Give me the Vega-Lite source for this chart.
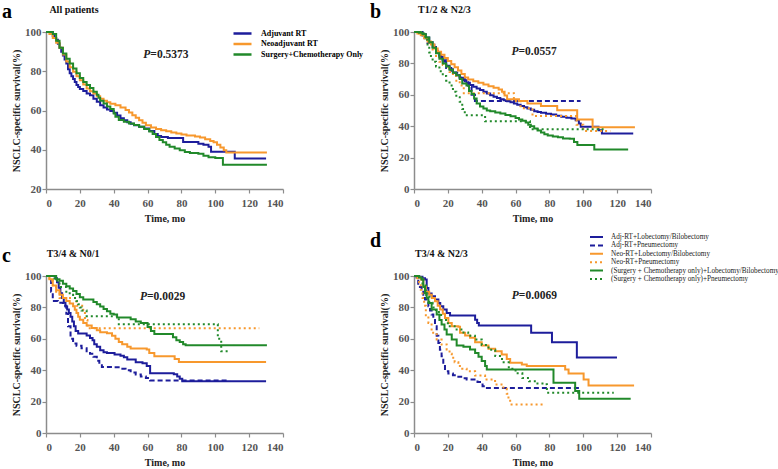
{
"$schema": "https://vega.github.io/schema/vega-lite/v6.json",
"autosize": {"type": "none"},
"padding": {"left": 46, "top": 32, "right": 732, "bottom": 437},
"background": "white",
"config": {
  "view": {"stroke": null},
  "font": "Liberation Serif",
  "axis": {"labelFont": "Liberation Serif", "labelFontWeight": "bold", "labelFontSize": 11, "labelColor": "#555555", "titleFont": "Liberation Serif", "titleFontWeight": "bold", "titleFontSize": 10, "titleColor": "#222222", "domainColor": "#8c8c8c", "domainWidth": 1.5, "tickColor": "#8c8c8c", "tickWidth": 1.2, "tickSize": 4, "grid": false},
  "axisX": {"labelPadding": 4, "titlePadding": 5},
  "axisY": {"labelPadding": 1, "titlePadding": 3},
  "title": {"font": "Liberation Serif", "fontWeight": "bold", "fontSize": 20, "color": "#000000", "anchor": "start", "frame": "group", "dx": -44, "offset": -17}
},
"datasets": {
  "a": [
    {"g":"Adjuvant RT","t":0,"s":100},{"g":"Adjuvant RT","t":4,"s":98},{"g":"Adjuvant RT","t":5,"s":97},{"g":"Adjuvant RT","t":6,"s":96},{"g":"Adjuvant RT","t":7,"s":94},{"g":"Adjuvant RT","t":8,"s":92},{"g":"Adjuvant RT","t":9,"s":90},{"g":"Adjuvant RT","t":10,"s":88},{"g":"Adjuvant RT","t":11,"s":86},{"g":"Adjuvant RT","t":12,"s":84},{"g":"Adjuvant RT","t":13,"s":81},{"g":"Adjuvant RT","t":14,"s":79},{"g":"Adjuvant RT","t":15,"s":77.5},{"g":"Adjuvant RT","t":16,"s":76},{"g":"Adjuvant RT","t":17,"s":74.5},{"g":"Adjuvant RT","t":18,"s":73},{"g":"Adjuvant RT","t":19,"s":72},{"g":"Adjuvant RT","t":20,"s":71},{"g":"Adjuvant RT","t":22,"s":70},{"g":"Adjuvant RT","t":24,"s":68.6},{"g":"Adjuvant RT","t":26,"s":67.8},{"g":"Adjuvant RT","t":28,"s":66},{"g":"Adjuvant RT","t":30,"s":64.5},{"g":"Adjuvant RT","t":32,"s":62.7},{"g":"Adjuvant RT","t":34,"s":61.5},{"g":"Adjuvant RT","t":36,"s":60.5},{"g":"Adjuvant RT","t":38,"s":59.8},{"g":"Adjuvant RT","t":40,"s":58.8},{"g":"Adjuvant RT","t":42,"s":57.5},{"g":"Adjuvant RT","t":44,"s":56},{"g":"Adjuvant RT","t":46,"s":55},{"g":"Adjuvant RT","t":48,"s":54},{"g":"Adjuvant RT","t":50,"s":53.2},{"g":"Adjuvant RT","t":52,"s":52.5},{"g":"Adjuvant RT","t":55,"s":51.7},{"g":"Adjuvant RT","t":58,"s":50.8},{"g":"Adjuvant RT","t":61,"s":49.5},{"g":"Adjuvant RT","t":64,"s":48},{"g":"Adjuvant RT","t":66,"s":47},{"g":"Adjuvant RT","t":68,"s":46.5},{"g":"Adjuvant RT","t":72,"s":46},{"g":"Adjuvant RT","t":81,"s":44},{"g":"Adjuvant RT","t":90,"s":43},{"g":"Adjuvant RT","t":93,"s":42.5},{"g":"Adjuvant RT","t":96,"s":41.5},{"g":"Adjuvant RT","t":97.5,"s":39},{"g":"Adjuvant RT","t":111.5,"s":35.6},{"g":"Adjuvant RT","t":130,"s":35.6},
    {"g":"Neoadjuvant RT","t":0,"s":100},{"g":"Neoadjuvant RT","t":2,"s":99},{"g":"Neoadjuvant RT","t":4,"s":97},{"g":"Neoadjuvant RT","t":6,"s":94.5},{"g":"Neoadjuvant RT","t":8,"s":92},{"g":"Neoadjuvant RT","t":10,"s":88.5},{"g":"Neoadjuvant RT","t":12,"s":85},{"g":"Neoadjuvant RT","t":14,"s":82},{"g":"Neoadjuvant RT","t":16,"s":79.7},{"g":"Neoadjuvant RT","t":18,"s":77.5},{"g":"Neoadjuvant RT","t":20,"s":75.4},{"g":"Neoadjuvant RT","t":22,"s":73.3},{"g":"Neoadjuvant RT","t":24,"s":71.2},{"g":"Neoadjuvant RT","t":26,"s":69.8},{"g":"Neoadjuvant RT","t":28,"s":68.6},{"g":"Neoadjuvant RT","t":30,"s":67.2},{"g":"Neoadjuvant RT","t":32,"s":66},{"g":"Neoadjuvant RT","t":34,"s":65},{"g":"Neoadjuvant RT","t":36,"s":64.2},{"g":"Neoadjuvant RT","t":38,"s":63.5},{"g":"Neoadjuvant RT","t":41,"s":62.7},{"g":"Neoadjuvant RT","t":44,"s":61.5},{"g":"Neoadjuvant RT","t":47,"s":60.2},{"g":"Neoadjuvant RT","t":49,"s":59},{"g":"Neoadjuvant RT","t":51,"s":57.6},{"g":"Neoadjuvant RT","t":53,"s":56.3},{"g":"Neoadjuvant RT","t":55,"s":55},{"g":"Neoadjuvant RT","t":57,"s":53.8},{"g":"Neoadjuvant RT","t":59,"s":52.5},{"g":"Neoadjuvant RT","t":62,"s":51.3},{"g":"Neoadjuvant RT","t":65,"s":50.6},{"g":"Neoadjuvant RT","t":68,"s":50},{"g":"Neoadjuvant RT","t":71,"s":49.4},{"g":"Neoadjuvant RT","t":74,"s":48.8},{"g":"Neoadjuvant RT","t":77,"s":48.3},{"g":"Neoadjuvant RT","t":80,"s":47.8},{"g":"Neoadjuvant RT","t":83,"s":47.2},{"g":"Neoadjuvant RT","t":88,"s":46.8},{"g":"Neoadjuvant RT","t":91,"s":46.2},{"g":"Neoadjuvant RT","t":94,"s":45.4},{"g":"Neoadjuvant RT","t":97,"s":44.5},{"g":"Neoadjuvant RT","t":99,"s":43.8},{"g":"Neoadjuvant RT","t":101,"s":42.5},{"g":"Neoadjuvant RT","t":103,"s":41.2},{"g":"Neoadjuvant RT","t":105,"s":39.8},{"g":"Neoadjuvant RT","t":106.5,"s":38.6},{"g":"Neoadjuvant RT","t":130.5,"s":38.6},
    {"g":"Surgery+Chemotherapy Only","t":0,"s":100},{"g":"Surgery+Chemotherapy Only","t":3,"s":100},{"g":"Surgery+Chemotherapy Only","t":4,"s":99},{"g":"Surgery+Chemotherapy Only","t":6,"s":95.5},{"g":"Surgery+Chemotherapy Only","t":8,"s":92},{"g":"Surgery+Chemotherapy Only","t":10,"s":89},{"g":"Surgery+Chemotherapy Only","t":12,"s":86.4},{"g":"Surgery+Chemotherapy Only","t":14,"s":84},{"g":"Surgery+Chemotherapy Only","t":16,"s":81.4},{"g":"Surgery+Chemotherapy Only","t":18,"s":79},{"g":"Surgery+Chemotherapy Only","t":20,"s":76.5},{"g":"Surgery+Chemotherapy Only","t":22,"s":74.5},{"g":"Surgery+Chemotherapy Only","t":24,"s":73},{"g":"Surgery+Chemotherapy Only","t":26,"s":71.5},{"g":"Surgery+Chemotherapy Only","t":28,"s":69.5},{"g":"Surgery+Chemotherapy Only","t":30,"s":68},{"g":"Surgery+Chemotherapy Only","t":31,"s":66.5},{"g":"Surgery+Chemotherapy Only","t":32,"s":65},{"g":"Surgery+Chemotherapy Only","t":34,"s":63.6},{"g":"Surgery+Chemotherapy Only","t":36,"s":62},{"g":"Surgery+Chemotherapy Only","t":38,"s":60.8},{"g":"Surgery+Chemotherapy Only","t":40,"s":58.5},{"g":"Surgery+Chemotherapy Only","t":41,"s":56.8},{"g":"Surgery+Chemotherapy Only","t":43,"s":55.2},{"g":"Surgery+Chemotherapy Only","t":46,"s":54.3},{"g":"Surgery+Chemotherapy Only","t":49,"s":53.4},{"g":"Surgery+Chemotherapy Only","t":52,"s":52.6},{"g":"Surgery+Chemotherapy Only","t":55,"s":51.7},{"g":"Surgery+Chemotherapy Only","t":58,"s":50.6},{"g":"Surgery+Chemotherapy Only","t":61,"s":49.3},{"g":"Surgery+Chemotherapy Only","t":63,"s":48},{"g":"Surgery+Chemotherapy Only","t":65,"s":46.5},{"g":"Surgery+Chemotherapy Only","t":67,"s":45},{"g":"Surgery+Chemotherapy Only","t":69,"s":43.8},{"g":"Surgery+Chemotherapy Only","t":71,"s":42.5},{"g":"Surgery+Chemotherapy Only","t":73,"s":41.5},{"g":"Surgery+Chemotherapy Only","t":76,"s":40.6},{"g":"Surgery+Chemotherapy Only","t":79,"s":39.8},{"g":"Surgery+Chemotherapy Only","t":82,"s":38.8},{"g":"Surgery+Chemotherapy Only","t":85,"s":38.4},{"g":"Surgery+Chemotherapy Only","t":90,"s":38},{"g":"Surgery+Chemotherapy Only","t":93,"s":37},{"g":"Surgery+Chemotherapy Only","t":96,"s":36.2},{"g":"Surgery+Chemotherapy Only","t":100,"s":35.8},{"g":"Surgery+Chemotherapy Only","t":104.5,"s":32.3},{"g":"Surgery+Chemotherapy Only","t":130.5,"s":32.3}
  ],
  "b": [
    {"g":"Adj-RT+Lobectomy/Bilobectomy","t":0,"s":100},{"g":"Adj-RT+Lobectomy/Bilobectomy","t":3,"s":99.5},{"g":"Adj-RT+Lobectomy/Bilobectomy","t":5,"s":98.5},{"g":"Adj-RT+Lobectomy/Bilobectomy","t":7,"s":96.5},{"g":"Adj-RT+Lobectomy/Bilobectomy","t":9,"s":93.5},{"g":"Adj-RT+Lobectomy/Bilobectomy","t":11,"s":90.5},{"g":"Adj-RT+Lobectomy/Bilobectomy","t":13,"s":87},{"g":"Adj-RT+Lobectomy/Bilobectomy","t":15,"s":84},{"g":"Adj-RT+Lobectomy/Bilobectomy","t":17,"s":81},{"g":"Adj-RT+Lobectomy/Bilobectomy","t":19,"s":78.5},{"g":"Adj-RT+Lobectomy/Bilobectomy","t":21,"s":76.3},{"g":"Adj-RT+Lobectomy/Bilobectomy","t":23,"s":74.2},{"g":"Adj-RT+Lobectomy/Bilobectomy","t":25,"s":72.5},{"g":"Adj-RT+Lobectomy/Bilobectomy","t":27,"s":70.8},{"g":"Adj-RT+Lobectomy/Bilobectomy","t":29,"s":69.2},{"g":"Adj-RT+Lobectomy/Bilobectomy","t":31,"s":67.6},{"g":"Adj-RT+Lobectomy/Bilobectomy","t":33,"s":66.2},{"g":"Adj-RT+Lobectomy/Bilobectomy","t":35,"s":65.1},{"g":"Adj-RT+Lobectomy/Bilobectomy","t":37,"s":64},{"g":"Adj-RT+Lobectomy/Bilobectomy","t":39,"s":63},{"g":"Adj-RT+Lobectomy/Bilobectomy","t":41,"s":61.9},{"g":"Adj-RT+Lobectomy/Bilobectomy","t":43,"s":60.8},{"g":"Adj-RT+Lobectomy/Bilobectomy","t":45,"s":59.7},{"g":"Adj-RT+Lobectomy/Bilobectomy","t":47,"s":58.7},{"g":"Adj-RT+Lobectomy/Bilobectomy","t":49,"s":57.9},{"g":"Adj-RT+Lobectomy/Bilobectomy","t":51,"s":57.2},{"g":"Adj-RT+Lobectomy/Bilobectomy","t":53,"s":56.5},{"g":"Adj-RT+Lobectomy/Bilobectomy","t":55,"s":55.9},{"g":"Adj-RT+Lobectomy/Bilobectomy","t":57,"s":55.2},{"g":"Adj-RT+Lobectomy/Bilobectomy","t":59,"s":54.5},{"g":"Adj-RT+Lobectomy/Bilobectomy","t":61,"s":53.6},{"g":"Adj-RT+Lobectomy/Bilobectomy","t":63,"s":52.8},{"g":"Adj-RT+Lobectomy/Bilobectomy","t":65,"s":52},{"g":"Adj-RT+Lobectomy/Bilobectomy","t":67,"s":51.3},{"g":"Adj-RT+Lobectomy/Bilobectomy","t":69,"s":50.4},{"g":"Adj-RT+Lobectomy/Bilobectomy","t":71,"s":49.6},{"g":"Adj-RT+Lobectomy/Bilobectomy","t":73,"s":49},{"g":"Adj-RT+Lobectomy/Bilobectomy","t":75,"s":48.5},{"g":"Adj-RT+Lobectomy/Bilobectomy","t":78,"s":48},{"g":"Adj-RT+Lobectomy/Bilobectomy","t":81,"s":47.4},{"g":"Adj-RT+Lobectomy/Bilobectomy","t":84,"s":46.7},{"g":"Adj-RT+Lobectomy/Bilobectomy","t":87,"s":46},{"g":"Adj-RT+Lobectomy/Bilobectomy","t":90,"s":45.4},{"g":"Adj-RT+Lobectomy/Bilobectomy","t":93,"s":44.9},{"g":"Adj-RT+Lobectomy/Bilobectomy","t":95.5,"s":43.8},{"g":"Adj-RT+Lobectomy/Bilobectomy","t":97.4,"s":41.7},{"g":"Adj-RT+Lobectomy/Bilobectomy","t":98.5,"s":39.6},{"g":"Adj-RT+Lobectomy/Bilobectomy","t":109,"s":37.4},{"g":"Adj-RT+Lobectomy/Bilobectomy","t":111,"s":35.3},{"g":"Adj-RT+Lobectomy/Bilobectomy","t":129.5,"s":35.3},
    {"g":"Adj-RT+Pneumectomy","t":0,"s":100},{"g":"Adj-RT+Pneumectomy","t":5,"s":96},{"g":"Adj-RT+Pneumectomy","t":8,"s":93},{"g":"Adj-RT+Pneumectomy","t":12,"s":88},{"g":"Adj-RT+Pneumectomy","t":14,"s":85},{"g":"Adj-RT+Pneumectomy","t":16,"s":82},{"g":"Adj-RT+Pneumectomy","t":19,"s":77},{"g":"Adj-RT+Pneumectomy","t":22,"s":74},{"g":"Adj-RT+Pneumectomy","t":27,"s":71},{"g":"Adj-RT+Pneumectomy","t":30,"s":68},{"g":"Adj-RT+Pneumectomy","t":32,"s":65},{"g":"Adj-RT+Pneumectomy","t":34,"s":60},{"g":"Adj-RT+Pneumectomy","t":36,"s":56},{"g":"Adj-RT+Pneumectomy","t":98.4,"s":56},
    {"g":"Neo-RT+Lobectomy/Bilobectomy","t":0,"s":100},{"g":"Neo-RT+Lobectomy/Bilobectomy","t":2,"s":99},{"g":"Neo-RT+Lobectomy/Bilobectomy","t":4,"s":98},{"g":"Neo-RT+Lobectomy/Bilobectomy","t":6,"s":96},{"g":"Neo-RT+Lobectomy/Bilobectomy","t":8,"s":94},{"g":"Neo-RT+Lobectomy/Bilobectomy","t":10,"s":92},{"g":"Neo-RT+Lobectomy/Bilobectomy","t":12,"s":89.5},{"g":"Neo-RT+Lobectomy/Bilobectomy","t":14,"s":87.5},{"g":"Neo-RT+Lobectomy/Bilobectomy","t":16,"s":85.5},{"g":"Neo-RT+Lobectomy/Bilobectomy","t":18,"s":83.5},{"g":"Neo-RT+Lobectomy/Bilobectomy","t":20,"s":81.5},{"g":"Neo-RT+Lobectomy/Bilobectomy","t":22,"s":79.5},{"g":"Neo-RT+Lobectomy/Bilobectomy","t":24,"s":77.5},{"g":"Neo-RT+Lobectomy/Bilobectomy","t":26,"s":75.5},{"g":"Neo-RT+Lobectomy/Bilobectomy","t":28,"s":73.2},{"g":"Neo-RT+Lobectomy/Bilobectomy","t":30,"s":71},{"g":"Neo-RT+Lobectomy/Bilobectomy","t":32,"s":69.8},{"g":"Neo-RT+Lobectomy/Bilobectomy","t":35,"s":68.7},{"g":"Neo-RT+Lobectomy/Bilobectomy","t":38,"s":67.6},{"g":"Neo-RT+Lobectomy/Bilobectomy","t":41,"s":66.6},{"g":"Neo-RT+Lobectomy/Bilobectomy","t":44,"s":65.5},{"g":"Neo-RT+Lobectomy/Bilobectomy","t":47,"s":64.5},{"g":"Neo-RT+Lobectomy/Bilobectomy","t":50,"s":63.4},{"g":"Neo-RT+Lobectomy/Bilobectomy","t":52,"s":61.9},{"g":"Neo-RT+Lobectomy/Bilobectomy","t":53.5,"s":59.5},{"g":"Neo-RT+Lobectomy/Bilobectomy","t":55,"s":57.2},{"g":"Neo-RT+Lobectomy/Bilobectomy","t":62,"s":56},{"g":"Neo-RT+Lobectomy/Bilobectomy","t":67,"s":54.5},{"g":"Neo-RT+Lobectomy/Bilobectomy","t":75,"s":52.8},{"g":"Neo-RT+Lobectomy/Bilobectomy","t":84.6,"s":50.2},{"g":"Neo-RT+Lobectomy/Bilobectomy","t":96.4,"s":44.3},{"g":"Neo-RT+Lobectomy/Bilobectomy","t":105.5,"s":39.4},{"g":"Neo-RT+Lobectomy/Bilobectomy","t":130.5,"s":39.4},
    {"g":"Neo-RT+Pneumectomy","t":0,"s":100},{"g":"Neo-RT+Pneumectomy","t":3,"s":99},{"g":"Neo-RT+Pneumectomy","t":5,"s":97.5},{"g":"Neo-RT+Pneumectomy","t":7,"s":95},{"g":"Neo-RT+Pneumectomy","t":9,"s":92},{"g":"Neo-RT+Pneumectomy","t":11,"s":88},{"g":"Neo-RT+Pneumectomy","t":13,"s":84},{"g":"Neo-RT+Pneumectomy","t":15,"s":81},{"g":"Neo-RT+Pneumectomy","t":17,"s":79},{"g":"Neo-RT+Pneumectomy","t":19,"s":77},{"g":"Neo-RT+Pneumectomy","t":21,"s":74.5},{"g":"Neo-RT+Pneumectomy","t":23,"s":72},{"g":"Neo-RT+Pneumectomy","t":25,"s":69},{"g":"Neo-RT+Pneumectomy","t":27,"s":66},{"g":"Neo-RT+Pneumectomy","t":29.4,"s":61},{"g":"Neo-RT+Pneumectomy","t":59,"s":56},{"g":"Neo-RT+Pneumectomy","t":63,"s":51.5},{"g":"Neo-RT+Pneumectomy","t":70,"s":46.5},{"g":"Neo-RT+Pneumectomy","t":96,"s":41},{"g":"Neo-RT+Pneumectomy","t":100,"s":37},{"g":"Neo-RT+Pneumectomy","t":116,"s":37},
    {"g":"(Surgery + Chemotherapy only)+Lobectomy/Bilobectomy","t":0,"s":100},{"g":"(Surgery + Chemotherapy only)+Lobectomy/Bilobectomy","t":3,"s":99.5},{"g":"(Surgery + Chemotherapy only)+Lobectomy/Bilobectomy","t":5,"s":98.5},{"g":"(Surgery + Chemotherapy only)+Lobectomy/Bilobectomy","t":7,"s":96.5},{"g":"(Surgery + Chemotherapy only)+Lobectomy/Bilobectomy","t":9,"s":93.5},{"g":"(Surgery + Chemotherapy only)+Lobectomy/Bilobectomy","t":11,"s":90},{"g":"(Surgery + Chemotherapy only)+Lobectomy/Bilobectomy","t":13,"s":86.5},{"g":"(Surgery + Chemotherapy only)+Lobectomy/Bilobectomy","t":15,"s":83},{"g":"(Surgery + Chemotherapy only)+Lobectomy/Bilobectomy","t":17,"s":80},{"g":"(Surgery + Chemotherapy only)+Lobectomy/Bilobectomy","t":19,"s":78},{"g":"(Surgery + Chemotherapy only)+Lobectomy/Bilobectomy","t":21,"s":76},{"g":"(Surgery + Chemotherapy only)+Lobectomy/Bilobectomy","t":23,"s":74},{"g":"(Surgery + Chemotherapy only)+Lobectomy/Bilobectomy","t":25,"s":72.5},{"g":"(Surgery + Chemotherapy only)+Lobectomy/Bilobectomy","t":27,"s":70},{"g":"(Surgery + Chemotherapy only)+Lobectomy/Bilobectomy","t":28.5,"s":67.2},{"g":"(Surgery + Chemotherapy only)+Lobectomy/Bilobectomy","t":31,"s":66},{"g":"(Surgery + Chemotherapy only)+Lobectomy/Bilobectomy","t":32.5,"s":62.5},{"g":"(Surgery + Chemotherapy only)+Lobectomy/Bilobectomy","t":34,"s":60.5},{"g":"(Surgery + Chemotherapy only)+Lobectomy/Bilobectomy","t":35.5,"s":57.7},{"g":"(Surgery + Chemotherapy only)+Lobectomy/Bilobectomy","t":37,"s":54.5},{"g":"(Surgery + Chemotherapy only)+Lobectomy/Bilobectomy","t":39,"s":52.5},{"g":"(Surgery + Chemotherapy only)+Lobectomy/Bilobectomy","t":41,"s":51.2},{"g":"(Surgery + Chemotherapy only)+Lobectomy/Bilobectomy","t":43,"s":50},{"g":"(Surgery + Chemotherapy only)+Lobectomy/Bilobectomy","t":45,"s":49.6},{"g":"(Surgery + Chemotherapy only)+Lobectomy/Bilobectomy","t":48,"s":48.8},{"g":"(Surgery + Chemotherapy only)+Lobectomy/Bilobectomy","t":51,"s":48.1},{"g":"(Surgery + Chemotherapy only)+Lobectomy/Bilobectomy","t":54,"s":47.2},{"g":"(Surgery + Chemotherapy only)+Lobectomy/Bilobectomy","t":57,"s":46.4},{"g":"(Surgery + Chemotherapy only)+Lobectomy/Bilobectomy","t":60,"s":45.3},{"g":"(Surgery + Chemotherapy only)+Lobectomy/Bilobectomy","t":62,"s":44.2},{"g":"(Surgery + Chemotherapy only)+Lobectomy/Bilobectomy","t":64,"s":43.5},{"g":"(Surgery + Chemotherapy only)+Lobectomy/Bilobectomy","t":66,"s":42.3},{"g":"(Surgery + Chemotherapy only)+Lobectomy/Bilobectomy","t":67.5,"s":41},{"g":"(Surgery + Chemotherapy only)+Lobectomy/Bilobectomy","t":69,"s":40},{"g":"(Surgery + Chemotherapy only)+Lobectomy/Bilobectomy","t":71,"s":38.5},{"g":"(Surgery + Chemotherapy only)+Lobectomy/Bilobectomy","t":73,"s":37.2},{"g":"(Surgery + Chemotherapy only)+Lobectomy/Bilobectomy","t":75,"s":36},{"g":"(Surgery + Chemotherapy only)+Lobectomy/Bilobectomy","t":77,"s":34.8},{"g":"(Surgery + Chemotherapy only)+Lobectomy/Bilobectomy","t":79,"s":34},{"g":"(Surgery + Chemotherapy only)+Lobectomy/Bilobectomy","t":82,"s":33.5},{"g":"(Surgery + Chemotherapy only)+Lobectomy/Bilobectomy","t":85,"s":33},{"g":"(Surgery + Chemotherapy only)+Lobectomy/Bilobectomy","t":88,"s":32.2},{"g":"(Surgery + Chemotherapy only)+Lobectomy/Bilobectomy","t":92,"s":32},{"g":"(Surgery + Chemotherapy only)+Lobectomy/Bilobectomy","t":94.5,"s":30},{"g":"(Surgery + Chemotherapy only)+Lobectomy/Bilobectomy","t":96.5,"s":28},{"g":"(Surgery + Chemotherapy only)+Lobectomy/Bilobectomy","t":106.5,"s":25.2},{"g":"(Surgery + Chemotherapy only)+Lobectomy/Bilobectomy","t":126.5,"s":25.2},
    {"g":"(Surgery + Chemotherapy only)+Pneumectomy","t":0,"s":100},{"g":"(Surgery + Chemotherapy only)+Pneumectomy","t":4,"s":99},{"g":"(Surgery + Chemotherapy only)+Pneumectomy","t":6,"s":97},{"g":"(Surgery + Chemotherapy only)+Pneumectomy","t":7,"s":95},{"g":"(Surgery + Chemotherapy only)+Pneumectomy","t":8,"s":91},{"g":"(Surgery + Chemotherapy only)+Pneumectomy","t":9,"s":87},{"g":"(Surgery + Chemotherapy only)+Pneumectomy","t":10,"s":84},{"g":"(Surgery + Chemotherapy only)+Pneumectomy","t":11,"s":81},{"g":"(Surgery + Chemotherapy only)+Pneumectomy","t":13,"s":78},{"g":"(Surgery + Chemotherapy only)+Pneumectomy","t":15,"s":75},{"g":"(Surgery + Chemotherapy only)+Pneumectomy","t":17,"s":72},{"g":"(Surgery + Chemotherapy only)+Pneumectomy","t":19,"s":69},{"g":"(Surgery + Chemotherapy only)+Pneumectomy","t":21,"s":66},{"g":"(Surgery + Chemotherapy only)+Pneumectomy","t":23,"s":62},{"g":"(Surgery + Chemotherapy only)+Pneumectomy","t":25,"s":58.5},{"g":"(Surgery + Chemotherapy only)+Pneumectomy","t":27,"s":55.5},{"g":"(Surgery + Chemotherapy only)+Pneumectomy","t":28.5,"s":51},{"g":"(Surgery + Chemotherapy only)+Pneumectomy","t":30,"s":47},{"g":"(Surgery + Chemotherapy only)+Pneumectomy","t":42,"s":43.2},{"g":"(Surgery + Chemotherapy only)+Pneumectomy","t":68.5,"s":38},{"g":"(Surgery + Chemotherapy only)+Pneumectomy","t":112,"s":38}
  ],
  "c": [
    {"g":"Adj-RT+Lobectomy/Bilobectomy","t":0,"s":100},{"g":"Adj-RT+Lobectomy/Bilobectomy","t":4,"s":100},{"g":"Adj-RT+Lobectomy/Bilobectomy","t":5.5,"s":98.5},{"g":"Adj-RT+Lobectomy/Bilobectomy","t":6.5,"s":96},{"g":"Adj-RT+Lobectomy/Bilobectomy","t":7.5,"s":92.5},{"g":"Adj-RT+Lobectomy/Bilobectomy","t":8.5,"s":89},{"g":"Adj-RT+Lobectomy/Bilobectomy","t":9.5,"s":86},{"g":"Adj-RT+Lobectomy/Bilobectomy","t":10.5,"s":83},{"g":"Adj-RT+Lobectomy/Bilobectomy","t":11.5,"s":80.5},{"g":"Adj-RT+Lobectomy/Bilobectomy","t":12.5,"s":78.6},{"g":"Adj-RT+Lobectomy/Bilobectomy","t":13.5,"s":76.5},{"g":"Adj-RT+Lobectomy/Bilobectomy","t":14.5,"s":74},{"g":"Adj-RT+Lobectomy/Bilobectomy","t":15.5,"s":71},{"g":"Adj-RT+Lobectomy/Bilobectomy","t":16.5,"s":68},{"g":"Adj-RT+Lobectomy/Bilobectomy","t":17.5,"s":65},{"g":"Adj-RT+Lobectomy/Bilobectomy","t":19,"s":63.3},{"g":"Adj-RT+Lobectomy/Bilobectomy","t":24,"s":62.1},{"g":"Adj-RT+Lobectomy/Bilobectomy","t":26,"s":60.5},{"g":"Adj-RT+Lobectomy/Bilobectomy","t":27.5,"s":59},{"g":"Adj-RT+Lobectomy/Bilobectomy","t":28.5,"s":56.5},{"g":"Adj-RT+Lobectomy/Bilobectomy","t":30,"s":55},{"g":"Adj-RT+Lobectomy/Bilobectomy","t":32,"s":52.7},{"g":"Adj-RT+Lobectomy/Bilobectomy","t":34,"s":51.5},{"g":"Adj-RT+Lobectomy/Bilobectomy","t":36,"s":51},{"g":"Adj-RT+Lobectomy/Bilobectomy","t":40.5,"s":50},{"g":"Adj-RT+Lobectomy/Bilobectomy","t":44,"s":49.2},{"g":"Adj-RT+Lobectomy/Bilobectomy","t":46,"s":48.3},{"g":"Adj-RT+Lobectomy/Bilobectomy","t":48,"s":46.8},{"g":"Adj-RT+Lobectomy/Bilobectomy","t":53,"s":45},{"g":"Adj-RT+Lobectomy/Bilobectomy","t":57,"s":44.5},{"g":"Adj-RT+Lobectomy/Bilobectomy","t":59.5,"s":42.6},{"g":"Adj-RT+Lobectomy/Bilobectomy","t":61.5,"s":38},{"g":"Adj-RT+Lobectomy/Bilobectomy","t":75.5,"s":37.5},{"g":"Adj-RT+Lobectomy/Bilobectomy","t":77.5,"s":36},{"g":"Adj-RT+Lobectomy/Bilobectomy","t":79,"s":34.5},{"g":"Adj-RT+Lobectomy/Bilobectomy","t":80.5,"s":33},{"g":"Adj-RT+Lobectomy/Bilobectomy","t":130,"s":33},
    {"g":"Adj-RT+Pneumectomy","t":0,"s":100},{"g":"Adj-RT+Pneumectomy","t":2,"s":100},{"g":"Adj-RT+Pneumectomy","t":3,"s":90},{"g":"Adj-RT+Pneumectomy","t":4,"s":84},{"g":"Adj-RT+Pneumectomy","t":7,"s":83},{"g":"Adj-RT+Pneumectomy","t":10,"s":81},{"g":"Adj-RT+Pneumectomy","t":12,"s":76},{"g":"Adj-RT+Pneumectomy","t":13,"s":68},{"g":"Adj-RT+Pneumectomy","t":14.5,"s":60},{"g":"Adj-RT+Pneumectomy","t":16,"s":57},{"g":"Adj-RT+Pneumectomy","t":18,"s":55.5},{"g":"Adj-RT+Pneumectomy","t":21,"s":54},{"g":"Adj-RT+Pneumectomy","t":24,"s":52},{"g":"Adj-RT+Pneumectomy","t":26,"s":50.5},{"g":"Adj-RT+Pneumectomy","t":28,"s":48.5},{"g":"Adj-RT+Pneumectomy","t":30,"s":46},{"g":"Adj-RT+Pneumectomy","t":31.5,"s":44},{"g":"Adj-RT+Pneumectomy","t":33,"s":42},{"g":"Adj-RT+Pneumectomy","t":40,"s":41.8},{"g":"Adj-RT+Pneumectomy","t":44,"s":41},{"g":"Adj-RT+Pneumectomy","t":47,"s":40},{"g":"Adj-RT+Pneumectomy","t":50,"s":38.5},{"g":"Adj-RT+Pneumectomy","t":53,"s":37.3},{"g":"Adj-RT+Pneumectomy","t":56,"s":36},{"g":"Adj-RT+Pneumectomy","t":59,"s":35},{"g":"Adj-RT+Pneumectomy","t":61.5,"s":33.5},{"g":"Adj-RT+Pneumectomy","t":108,"s":33.5},
    {"g":"Neo-RT+Lobectomy/Bilobectomy","t":0,"s":100},{"g":"Neo-RT+Lobectomy/Bilobectomy","t":2,"s":98},{"g":"Neo-RT+Lobectomy/Bilobectomy","t":4,"s":94},{"g":"Neo-RT+Lobectomy/Bilobectomy","t":6,"s":91},{"g":"Neo-RT+Lobectomy/Bilobectomy","t":8,"s":88},{"g":"Neo-RT+Lobectomy/Bilobectomy","t":10,"s":86},{"g":"Neo-RT+Lobectomy/Bilobectomy","t":12,"s":84},{"g":"Neo-RT+Lobectomy/Bilobectomy","t":14,"s":82.5},{"g":"Neo-RT+Lobectomy/Bilobectomy","t":16,"s":80.7},{"g":"Neo-RT+Lobectomy/Bilobectomy","t":17,"s":78.5},{"g":"Neo-RT+Lobectomy/Bilobectomy","t":18,"s":76.5},{"g":"Neo-RT+Lobectomy/Bilobectomy","t":19,"s":74},{"g":"Neo-RT+Lobectomy/Bilobectomy","t":20,"s":72.2},{"g":"Neo-RT+Lobectomy/Bilobectomy","t":22,"s":70.1},{"g":"Neo-RT+Lobectomy/Bilobectomy","t":24,"s":68.4},{"g":"Neo-RT+Lobectomy/Bilobectomy","t":27,"s":66.9},{"g":"Neo-RT+Lobectomy/Bilobectomy","t":30,"s":65.5},{"g":"Neo-RT+Lobectomy/Bilobectomy","t":32,"s":64.2},{"g":"Neo-RT+Lobectomy/Bilobectomy","t":36,"s":63.5},{"g":"Neo-RT+Lobectomy/Bilobectomy","t":39,"s":62},{"g":"Neo-RT+Lobectomy/Bilobectomy","t":41,"s":60},{"g":"Neo-RT+Lobectomy/Bilobectomy","t":43,"s":58},{"g":"Neo-RT+Lobectomy/Bilobectomy","t":45,"s":56.5},{"g":"Neo-RT+Lobectomy/Bilobectomy","t":48,"s":55},{"g":"Neo-RT+Lobectomy/Bilobectomy","t":50,"s":53.8},{"g":"Neo-RT+Lobectomy/Bilobectomy","t":59.5,"s":53.2},{"g":"Neo-RT+Lobectomy/Bilobectomy","t":61,"s":51},{"g":"Neo-RT+Lobectomy/Bilobectomy","t":64,"s":48.9},{"g":"Neo-RT+Lobectomy/Bilobectomy","t":76,"s":47.2},{"g":"Neo-RT+Lobectomy/Bilobectomy","t":78.5,"s":45.3},{"g":"Neo-RT+Lobectomy/Bilobectomy","t":130,"s":45.3},
    {"g":"Neo-RT+Pneumectomy","t":0,"s":100},{"g":"Neo-RT+Pneumectomy","t":2,"s":97},{"g":"Neo-RT+Pneumectomy","t":4,"s":93},{"g":"Neo-RT+Pneumectomy","t":6,"s":89},{"g":"Neo-RT+Pneumectomy","t":8,"s":86},{"g":"Neo-RT+Pneumectomy","t":18,"s":81},{"g":"Neo-RT+Pneumectomy","t":22,"s":78},{"g":"Neo-RT+Pneumectomy","t":23,"s":72},{"g":"Neo-RT+Pneumectomy","t":24.5,"s":66.7},{"g":"Neo-RT+Pneumectomy","t":126,"s":66.7},
    {"g":"(Surgery + Chemotherapy only)+Lobectomy/Bilobectomy","t":0,"s":100},{"g":"(Surgery + Chemotherapy only)+Lobectomy/Bilobectomy","t":4,"s":100},{"g":"(Surgery + Chemotherapy only)+Lobectomy/Bilobectomy","t":6,"s":98},{"g":"(Surgery + Chemotherapy only)+Lobectomy/Bilobectomy","t":8,"s":97},{"g":"(Surgery + Chemotherapy only)+Lobectomy/Bilobectomy","t":10,"s":95},{"g":"(Surgery + Chemotherapy only)+Lobectomy/Bilobectomy","t":12,"s":93.5},{"g":"(Surgery + Chemotherapy only)+Lobectomy/Bilobectomy","t":14,"s":92},{"g":"(Surgery + Chemotherapy only)+Lobectomy/Bilobectomy","t":16,"s":90.5},{"g":"(Surgery + Chemotherapy only)+Lobectomy/Bilobectomy","t":18,"s":88.5},{"g":"(Surgery + Chemotherapy only)+Lobectomy/Bilobectomy","t":20,"s":86.5},{"g":"(Surgery + Chemotherapy only)+Lobectomy/Bilobectomy","t":22,"s":85},{"g":"(Surgery + Chemotherapy only)+Lobectomy/Bilobectomy","t":28,"s":83.5},{"g":"(Surgery + Chemotherapy only)+Lobectomy/Bilobectomy","t":30,"s":82},{"g":"(Surgery + Chemotherapy only)+Lobectomy/Bilobectomy","t":32,"s":80.5},{"g":"(Surgery + Chemotherapy only)+Lobectomy/Bilobectomy","t":34,"s":79},{"g":"(Surgery + Chemotherapy only)+Lobectomy/Bilobectomy","t":36,"s":77.5},{"g":"(Surgery + Chemotherapy only)+Lobectomy/Bilobectomy","t":38,"s":76},{"g":"(Surgery + Chemotherapy only)+Lobectomy/Bilobectomy","t":40,"s":75.4},{"g":"(Surgery + Chemotherapy only)+Lobectomy/Bilobectomy","t":42,"s":73.5},{"g":"(Surgery + Chemotherapy only)+Lobectomy/Bilobectomy","t":50,"s":72.5},{"g":"(Surgery + Chemotherapy only)+Lobectomy/Bilobectomy","t":53,"s":71},{"g":"(Surgery + Chemotherapy only)+Lobectomy/Bilobectomy","t":56,"s":70},{"g":"(Surgery + Chemotherapy only)+Lobectomy/Bilobectomy","t":60,"s":67.5},{"g":"(Surgery + Chemotherapy only)+Lobectomy/Bilobectomy","t":62,"s":65},{"g":"(Surgery + Chemotherapy only)+Lobectomy/Bilobectomy","t":64,"s":63},{"g":"(Surgery + Chemotherapy only)+Lobectomy/Bilobectomy","t":75,"s":61},{"g":"(Surgery + Chemotherapy only)+Lobectomy/Bilobectomy","t":77,"s":59},{"g":"(Surgery + Chemotherapy only)+Lobectomy/Bilobectomy","t":79,"s":58},{"g":"(Surgery + Chemotherapy only)+Lobectomy/Bilobectomy","t":81,"s":56.5},{"g":"(Surgery + Chemotherapy only)+Lobectomy/Bilobectomy","t":82.5,"s":55.9},{"g":"(Surgery + Chemotherapy only)+Lobectomy/Bilobectomy","t":130.5,"s":55.9},
    {"g":"(Surgery + Chemotherapy only)+Pneumectomy","t":0,"s":100},{"g":"(Surgery + Chemotherapy only)+Pneumectomy","t":3,"s":100},{"g":"(Surgery + Chemotherapy only)+Pneumectomy","t":5,"s":97},{"g":"(Surgery + Chemotherapy only)+Pneumectomy","t":8,"s":93},{"g":"(Surgery + Chemotherapy only)+Pneumectomy","t":12,"s":90},{"g":"(Surgery + Chemotherapy only)+Pneumectomy","t":14,"s":88},{"g":"(Surgery + Chemotherapy only)+Pneumectomy","t":16,"s":86},{"g":"(Surgery + Chemotherapy only)+Pneumectomy","t":18,"s":84},{"g":"(Surgery + Chemotherapy only)+Pneumectomy","t":19,"s":82},{"g":"(Surgery + Chemotherapy only)+Pneumectomy","t":20,"s":80},{"g":"(Surgery + Chemotherapy only)+Pneumectomy","t":21,"s":78},{"g":"(Surgery + Chemotherapy only)+Pneumectomy","t":24,"s":74.4},{"g":"(Surgery + Chemotherapy only)+Pneumectomy","t":43,"s":69.3},{"g":"(Surgery + Chemotherapy only)+Pneumectomy","t":101.5,"s":60},{"g":"(Surgery + Chemotherapy only)+Pneumectomy","t":103.5,"s":52},{"g":"(Surgery + Chemotherapy only)+Pneumectomy","t":109,"s":52}
  ],
  "d": [
    {"g":"Adj-RT+Lobectomy/Bilobectomy","t":0,"s":100},{"g":"Adj-RT+Lobectomy/Bilobectomy","t":3,"s":99.5},{"g":"Adj-RT+Lobectomy/Bilobectomy","t":5,"s":98.5},{"g":"Adj-RT+Lobectomy/Bilobectomy","t":6.5,"s":97.7},{"g":"Adj-RT+Lobectomy/Bilobectomy","t":7.5,"s":92.4},{"g":"Adj-RT+Lobectomy/Bilobectomy","t":8.5,"s":88.8},{"g":"Adj-RT+Lobectomy/Bilobectomy","t":10.4,"s":87.1},{"g":"Adj-RT+Lobectomy/Bilobectomy","t":12.4,"s":85},{"g":"Adj-RT+Lobectomy/Bilobectomy","t":14.4,"s":82.8},{"g":"Adj-RT+Lobectomy/Bilobectomy","t":15.5,"s":80.7},{"g":"Adj-RT+Lobectomy/Bilobectomy","t":17.3,"s":78.6},{"g":"Adj-RT+Lobectomy/Bilobectomy","t":19.3,"s":76.5},{"g":"Adj-RT+Lobectomy/Bilobectomy","t":21.3,"s":74.8},{"g":"Adj-RT+Lobectomy/Bilobectomy","t":36.1,"s":72.2},{"g":"Adj-RT+Lobectomy/Bilobectomy","t":37.3,"s":70},{"g":"Adj-RT+Lobectomy/Bilobectomy","t":38.3,"s":68.4},{"g":"Adj-RT+Lobectomy/Bilobectomy","t":69.2,"s":63.8},{"g":"Adj-RT+Lobectomy/Bilobectomy","t":81.5,"s":57.8},{"g":"Adj-RT+Lobectomy/Bilobectomy","t":96.2,"s":48.1},{"g":"Adj-RT+Lobectomy/Bilobectomy","t":119.9,"s":48.1},
    {"g":"Adj-RT+Pneumectomy","t":0,"s":100},{"g":"Adj-RT+Pneumectomy","t":1.5,"s":97.7},{"g":"Adj-RT+Pneumectomy","t":2.5,"s":95},{"g":"Adj-RT+Pneumectomy","t":3.5,"s":93},{"g":"Adj-RT+Pneumectomy","t":4.5,"s":91.3},{"g":"Adj-RT+Pneumectomy","t":5.5,"s":88},{"g":"Adj-RT+Pneumectomy","t":6.5,"s":85},{"g":"Adj-RT+Pneumectomy","t":7.5,"s":83},{"g":"Adj-RT+Pneumectomy","t":8.5,"s":80.7},{"g":"Adj-RT+Pneumectomy","t":9.5,"s":78},{"g":"Adj-RT+Pneumectomy","t":10.4,"s":75.4},{"g":"Adj-RT+Pneumectomy","t":11.4,"s":72},{"g":"Adj-RT+Pneumectomy","t":12.4,"s":68},{"g":"Adj-RT+Pneumectomy","t":13.4,"s":62},{"g":"Adj-RT+Pneumectomy","t":14.4,"s":57.4},{"g":"Adj-RT+Pneumectomy","t":15.3,"s":53},{"g":"Adj-RT+Pneumectomy","t":16.3,"s":48.9},{"g":"Adj-RT+Pneumectomy","t":17.3,"s":44},{"g":"Adj-RT+Pneumectomy","t":18.3,"s":39.4},{"g":"Adj-RT+Pneumectomy","t":20.3,"s":37.9},{"g":"Adj-RT+Pneumectomy","t":23,"s":36.8},{"g":"Adj-RT+Pneumectomy","t":26.2,"s":35.8},{"g":"Adj-RT+Pneumectomy","t":28.5,"s":34.8},{"g":"Adj-RT+Pneumectomy","t":31.1,"s":34.1},{"g":"Adj-RT+Pneumectomy","t":37.5,"s":32.5},{"g":"Adj-RT+Pneumectomy","t":39,"s":30.9},{"g":"Adj-RT+Pneumectomy","t":40.5,"s":29.8},{"g":"Adj-RT+Pneumectomy","t":42,"s":28.6},{"g":"Adj-RT+Pneumectomy","t":97.5,"s":28.6},
    {"g":"Neo-RT+Lobectomy/Bilobectomy","t":0,"s":100},{"g":"Neo-RT+Lobectomy/Bilobectomy","t":2,"s":99},{"g":"Neo-RT+Lobectomy/Bilobectomy","t":4,"s":97.7},{"g":"Neo-RT+Lobectomy/Bilobectomy","t":5.5,"s":93.4},{"g":"Neo-RT+Lobectomy/Bilobectomy","t":7,"s":90},{"g":"Neo-RT+Lobectomy/Bilobectomy","t":9,"s":88},{"g":"Neo-RT+Lobectomy/Bilobectomy","t":10.5,"s":86},{"g":"Neo-RT+Lobectomy/Bilobectomy","t":12.4,"s":83.9},{"g":"Neo-RT+Lobectomy/Bilobectomy","t":14,"s":81},{"g":"Neo-RT+Lobectomy/Bilobectomy","t":15.4,"s":78.6},{"g":"Neo-RT+Lobectomy/Bilobectomy","t":17,"s":76},{"g":"Neo-RT+Lobectomy/Bilobectomy","t":18.3,"s":73.3},{"g":"Neo-RT+Lobectomy/Bilobectomy","t":20.3,"s":70.1},{"g":"Neo-RT+Lobectomy/Bilobectomy","t":22.3,"s":68},{"g":"Neo-RT+Lobectomy/Bilobectomy","t":26.2,"s":67.6},{"g":"Neo-RT+Lobectomy/Bilobectomy","t":27.2,"s":63.8},{"g":"Neo-RT+Lobectomy/Bilobectomy","t":30.2,"s":62.1},{"g":"Neo-RT+Lobectomy/Bilobectomy","t":33.1,"s":60.6},{"g":"Neo-RT+Lobectomy/Bilobectomy","t":36.1,"s":57.8},{"g":"Neo-RT+Lobectomy/Bilobectomy","t":40,"s":55.7},{"g":"Neo-RT+Lobectomy/Bilobectomy","t":44,"s":53.6},{"g":"Neo-RT+Lobectomy/Bilobectomy","t":47.9,"s":52.1},{"g":"Neo-RT+Lobectomy/Bilobectomy","t":51.8,"s":50},{"g":"Neo-RT+Lobectomy/Bilobectomy","t":54.8,"s":47.2},{"g":"Neo-RT+Lobectomy/Bilobectomy","t":56.8,"s":44.7},{"g":"Neo-RT+Lobectomy/Bilobectomy","t":63.7,"s":43.6},{"g":"Neo-RT+Lobectomy/Bilobectomy","t":66.6,"s":42.6},{"g":"Neo-RT+Lobectomy/Bilobectomy","t":89.3,"s":40.5},{"g":"Neo-RT+Lobectomy/Bilobectomy","t":91.3,"s":37.9},{"g":"Neo-RT+Lobectomy/Bilobectomy","t":100.2,"s":34.1},{"g":"Neo-RT+Lobectomy/Bilobectomy","t":103.1,"s":30.3},{"g":"Neo-RT+Lobectomy/Bilobectomy","t":130,"s":30.3},
    {"g":"Neo-RT+Pneumectomy","t":0,"s":100},{"g":"Neo-RT+Pneumectomy","t":2,"s":98.5},{"g":"Neo-RT+Pneumectomy","t":3,"s":96},{"g":"Neo-RT+Pneumectomy","t":4,"s":91.3},{"g":"Neo-RT+Pneumectomy","t":5,"s":86},{"g":"Neo-RT+Pneumectomy","t":6,"s":81},{"g":"Neo-RT+Pneumectomy","t":7,"s":75},{"g":"Neo-RT+Pneumectomy","t":8.5,"s":70.1},{"g":"Neo-RT+Pneumectomy","t":10.4,"s":63.8},{"g":"Neo-RT+Pneumectomy","t":13.4,"s":59.5},{"g":"Neo-RT+Pneumectomy","t":16.3,"s":56.4},{"g":"Neo-RT+Pneumectomy","t":19.3,"s":53.2},{"g":"Neo-RT+Pneumectomy","t":21,"s":50.5},{"g":"Neo-RT+Pneumectomy","t":22.3,"s":47.9},{"g":"Neo-RT+Pneumectomy","t":24,"s":45},{"g":"Neo-RT+Pneumectomy","t":26.2,"s":42.6},{"g":"Neo-RT+Pneumectomy","t":28.5,"s":41},{"g":"Neo-RT+Pneumectomy","t":31.1,"s":39.4},{"g":"Neo-RT+Pneumectomy","t":36.1,"s":36.6},{"g":"Neo-RT+Pneumectomy","t":42,"s":34.1},{"g":"Neo-RT+Pneumectomy","t":47.9,"s":30.9},{"g":"Neo-RT+Pneumectomy","t":52.8,"s":28.2},{"g":"Neo-RT+Pneumectomy","t":54.8,"s":25},{"g":"Neo-RT+Pneumectomy","t":55.8,"s":21.5},{"g":"Neo-RT+Pneumectomy","t":56.8,"s":18.2},{"g":"Neo-RT+Pneumectomy","t":77.5,"s":18.2},
    {"g":"(Surgery + Chemotherapy only)+Lobectomy/Bilobectomy","t":0,"s":100},{"g":"(Surgery + Chemotherapy only)+Lobectomy/Bilobectomy","t":3,"s":99},{"g":"(Surgery + Chemotherapy only)+Lobectomy/Bilobectomy","t":4.5,"s":97.7},{"g":"(Surgery + Chemotherapy only)+Lobectomy/Bilobectomy","t":5.5,"s":93},{"g":"(Surgery + Chemotherapy only)+Lobectomy/Bilobectomy","t":6.5,"s":89.2},{"g":"(Surgery + Chemotherapy only)+Lobectomy/Bilobectomy","t":7.5,"s":86},{"g":"(Surgery + Chemotherapy only)+Lobectomy/Bilobectomy","t":8.5,"s":82.8},{"g":"(Surgery + Chemotherapy only)+Lobectomy/Bilobectomy","t":10.4,"s":78.6},{"g":"(Surgery + Chemotherapy only)+Lobectomy/Bilobectomy","t":13.4,"s":75.4},{"g":"(Surgery + Chemotherapy only)+Lobectomy/Bilobectomy","t":15,"s":72},{"g":"(Surgery + Chemotherapy only)+Lobectomy/Bilobectomy","t":16.3,"s":69.1},{"g":"(Surgery + Chemotherapy only)+Lobectomy/Bilobectomy","t":18,"s":66},{"g":"(Surgery + Chemotherapy only)+Lobectomy/Bilobectomy","t":19.3,"s":62.7},{"g":"(Surgery + Chemotherapy only)+Lobectomy/Bilobectomy","t":22.3,"s":59.5},{"g":"(Surgery + Chemotherapy only)+Lobectomy/Bilobectomy","t":25.2,"s":55.7},{"g":"(Surgery + Chemotherapy only)+Lobectomy/Bilobectomy","t":29.2,"s":54.9},{"g":"(Surgery + Chemotherapy only)+Lobectomy/Bilobectomy","t":33.1,"s":53.2},{"g":"(Surgery + Chemotherapy only)+Lobectomy/Bilobectomy","t":36.1,"s":51},{"g":"(Surgery + Chemotherapy only)+Lobectomy/Bilobectomy","t":38.1,"s":48.5},{"g":"(Surgery + Chemotherapy only)+Lobectomy/Bilobectomy","t":40,"s":45.8},{"g":"(Surgery + Chemotherapy only)+Lobectomy/Bilobectomy","t":42,"s":42.6},{"g":"(Surgery + Chemotherapy only)+Lobectomy/Bilobectomy","t":43,"s":40.5},{"g":"(Surgery + Chemotherapy only)+Lobectomy/Bilobectomy","t":82.4,"s":32},{"g":"(Surgery + Chemotherapy only)+Lobectomy/Bilobectomy","t":95.2,"s":26.7},{"g":"(Surgery + Chemotherapy only)+Lobectomy/Bilobectomy","t":97.6,"s":21.8},{"g":"(Surgery + Chemotherapy only)+Lobectomy/Bilobectomy","t":128,"s":21.8},
    {"g":"(Surgery + Chemotherapy only)+Pneumectomy","t":0,"s":100},{"g":"(Surgery + Chemotherapy only)+Pneumectomy","t":3,"s":98},{"g":"(Surgery + Chemotherapy only)+Pneumectomy","t":5,"s":94},{"g":"(Surgery + Chemotherapy only)+Pneumectomy","t":7,"s":88},{"g":"(Surgery + Chemotherapy only)+Pneumectomy","t":9,"s":83},{"g":"(Surgery + Chemotherapy only)+Pneumectomy","t":11,"s":80},{"g":"(Surgery + Chemotherapy only)+Pneumectomy","t":13,"s":77},{"g":"(Surgery + Chemotherapy only)+Pneumectomy","t":16,"s":72},{"g":"(Surgery + Chemotherapy only)+Pneumectomy","t":20,"s":68},{"g":"(Surgery + Chemotherapy only)+Pneumectomy","t":24,"s":66},{"g":"(Surgery + Chemotherapy only)+Pneumectomy","t":28,"s":64},{"g":"(Surgery + Chemotherapy only)+Pneumectomy","t":32,"s":62},{"g":"(Surgery + Chemotherapy only)+Pneumectomy","t":36,"s":59.5},{"g":"(Surgery + Chemotherapy only)+Pneumectomy","t":40,"s":56},{"g":"(Surgery + Chemotherapy only)+Pneumectomy","t":44,"s":53},{"g":"(Surgery + Chemotherapy only)+Pneumectomy","t":48,"s":49},{"g":"(Surgery + Chemotherapy only)+Pneumectomy","t":52,"s":45},{"g":"(Surgery + Chemotherapy only)+Pneumectomy","t":56,"s":41},{"g":"(Surgery + Chemotherapy only)+Pneumectomy","t":60,"s":38},{"g":"(Surgery + Chemotherapy only)+Pneumectomy","t":64,"s":35},{"g":"(Surgery + Chemotherapy only)+Pneumectomy","t":68,"s":33},{"g":"(Surgery + Chemotherapy only)+Pneumectomy","t":72,"s":31.5},{"g":"(Surgery + Chemotherapy only)+Pneumectomy","t":76.5,"s":31},{"g":"(Surgery + Chemotherapy only)+Pneumectomy","t":78.5,"s":25.6},{"g":"(Surgery + Chemotherapy only)+Pneumectomy","t":118,"s":25.6}
  ]
},
"columns": 2,
"spacing": {"row": 87, "column": 131},
"bounds": "flush",
"resolve": {"scale": {"x": "independent", "y": "independent", "color": "independent", "strokeDash": "independent"}, "legend": {"color": "independent", "strokeDash": "independent"}},
"concat": [
  {
    "width": 237, "height": 157,
    "title": {"text": "a"},
    "encoding": {
      "x": {"field": "t", "type": "quantitative", "scale": {"domain": [0, 140], "nice": false}, "axis": {"values": [0,20,40,60,80,100,120,140], "title": "Time, mo"}},
      "y": {"field": "s", "type": "quantitative", "scale": {"domain": [20, 100], "nice": false, "zero": false}, "axis": {"values": [20,40,60,80,100], "title": "NSCLC-specific survival(%)"}}
    },
    "layer": [
      {"data": {"name": "a"}, "mark": {"type": "line", "interpolate": "step-after", "strokeWidth": 2},
       "encoding": {"color": {"field": "g", "type": "nominal", "scale": {"domain": ["Adjuvant RT", "Neoadjuvant RT", "Surgery+Chemotherapy Only"], "range": ["#1d1d9b", "#f7982d", "#21892a"]},
         "legend": {"title": null, "orient": "none", "legendX": 186, "legendY": -2.5, "padding": 0, "symbolType": "stroke", "symbolSize": 324, "symbolStrokeWidth": 2.5, "labelFont": "Liberation Serif", "labelFontWeight": "bold", "labelFontSize": 8, "labelColor": "#000000", "labelOffset": 8, "clipHeight": 8, "rowPadding": 2.5}}}},
      {"data": {"values": [{"t": 2, "s": 111, "txt": "All patients"}]}, "mark": {"type": "text", "align": "left", "baseline": "middle", "font": "Liberation Serif", "fontWeight": "bold", "fontSize": 10, "color": "#111111"}, "encoding": {"text": {"field": "txt"}}},
      {"data": {"values": [{"t": 57.5, "s": 88.5, "txt": "P"}]}, "mark": {"type": "text", "align": "left", "baseline": "middle", "font": "Liberation Serif", "fontWeight": "bold", "fontStyle": "italic", "fontSize": 11.5, "color": "#222222"}, "encoding": {"text": {"field": "txt"}}},
      {"data": {"values": [{"t": 57.5, "s": 88.5, "txt": "=0.5373"}]}, "mark": {"type": "text", "align": "left", "baseline": "middle", "dx": 7, "font": "Liberation Serif", "fontWeight": "bold", "fontSize": 11.5, "color": "#222222"}, "encoding": {"text": {"field": "txt"}}}
    ]
  },
  {
    "width": 237, "height": 157,
    "title": {"text": "b"},
    "encoding": {
      "x": {"field": "t", "type": "quantitative", "scale": {"domain": [0, 140], "nice": false}, "axis": {"values": [0,20,40,60,80,100,120,140], "title": "Time, mo"}},
      "y": {"field": "s", "type": "quantitative", "scale": {"domain": [0, 100], "nice": false}, "axis": {"values": [0,20,40,60,80,100], "title": "NSCLC-specific survival(%)"}}
    },
    "layer": [
      {"data": {"name": "b"}, "mark": {"type": "line", "interpolate": "step-after", "strokeWidth": 2},
       "encoding": {
         "color": {"field": "g", "type": "nominal", "scale": {"domain": ["Adj-RT+Lobectomy/Bilobectomy", "Adj-RT+Pneumectomy", "Neo-RT+Lobectomy/Bilobectomy", "Neo-RT+Pneumectomy", "(Surgery + Chemotherapy only)+Lobectomy/Bilobectomy", "(Surgery + Chemotherapy only)+Pneumectomy"], "range": ["#1d1d9b", "#1d1d9b", "#f7982d", "#f7982d", "#21892a", "#21892a"]}, "legend": null},
         "strokeDash": {"field": "g", "type": "nominal", "scale": {"domain": ["Adj-RT+Lobectomy/Bilobectomy", "Adj-RT+Pneumectomy", "Neo-RT+Lobectomy/Bilobectomy", "Neo-RT+Pneumectomy", "(Surgery + Chemotherapy only)+Lobectomy/Bilobectomy", "(Surgery + Chemotherapy only)+Pneumectomy"], "range": [[1,0],[5,3],[1,0],[2,3],[1,0],[2,3]]}, "legend": null}
       }},
      {"data": {"values": [{"t": 2.4, "s": 114, "txt": "T1/2 & N2/3"}]}, "mark": {"type": "text", "align": "left", "baseline": "middle", "font": "Liberation Serif", "fontWeight": "bold", "fontSize": 10, "color": "#111111"}, "encoding": {"text": {"field": "txt"}}},
      {"data": {"values": [{"t": 57.6, "s": 87.4, "txt": "P"}]}, "mark": {"type": "text", "align": "left", "baseline": "middle", "font": "Liberation Serif", "fontWeight": "bold", "fontStyle": "italic", "fontSize": 11.5, "color": "#222222"}, "encoding": {"text": {"field": "txt"}}},
      {"data": {"values": [{"t": 57.6, "s": 87.4, "txt": "=0.0557"}]}, "mark": {"type": "text", "align": "left", "baseline": "middle", "dx": 7, "font": "Liberation Serif", "fontWeight": "bold", "fontSize": 11.5, "color": "#222222"}, "encoding": {"text": {"field": "txt"}}}
    ]
  },
  {
    "width": 237, "height": 157,
    "title": {"text": "c"},
    "encoding": {
      "x": {"field": "t", "type": "quantitative", "scale": {"domain": [0, 140], "nice": false}, "axis": {"values": [0,20,40,60,80,100,120,140], "title": "Time, mo"}},
      "y": {"field": "s", "type": "quantitative", "scale": {"domain": [0, 100], "nice": false}, "axis": {"values": [0,20,40,60,80,100], "title": "NSCLC-specific survival(%)"}}
    },
    "layer": [
      {"data": {"name": "c"}, "mark": {"type": "line", "interpolate": "step-after", "strokeWidth": 2},
       "encoding": {
         "color": {"field": "g", "type": "nominal", "scale": {"domain": ["Adj-RT+Lobectomy/Bilobectomy", "Adj-RT+Pneumectomy", "Neo-RT+Lobectomy/Bilobectomy", "Neo-RT+Pneumectomy", "(Surgery + Chemotherapy only)+Lobectomy/Bilobectomy", "(Surgery + Chemotherapy only)+Pneumectomy"], "range": ["#1d1d9b", "#1d1d9b", "#f7982d", "#f7982d", "#21892a", "#21892a"]}, "legend": null},
         "strokeDash": {"field": "g", "type": "nominal", "scale": {"domain": ["Adj-RT+Lobectomy/Bilobectomy", "Adj-RT+Pneumectomy", "Neo-RT+Lobectomy/Bilobectomy", "Neo-RT+Pneumectomy", "(Surgery + Chemotherapy only)+Lobectomy/Bilobectomy", "(Surgery + Chemotherapy only)+Pneumectomy"], "range": [[1,0],[5,3],[1,0],[2,3],[1,0],[2,3]]}, "legend": null}
       }},
      {"data": {"values": [{"t": 0.5, "s": 114, "txt": "T3/4 & N0/1"}]}, "mark": {"type": "text", "align": "left", "baseline": "middle", "font": "Liberation Serif", "fontWeight": "bold", "fontSize": 10, "color": "#111111"}, "encoding": {"text": {"field": "txt"}}},
      {"data": {"values": [{"t": 55.5, "s": 86.4, "txt": "P"}]}, "mark": {"type": "text", "align": "left", "baseline": "middle", "font": "Liberation Serif", "fontWeight": "bold", "fontStyle": "italic", "fontSize": 11.5, "color": "#222222"}, "encoding": {"text": {"field": "txt"}}},
      {"data": {"values": [{"t": 55.5, "s": 86.4, "txt": "=0.0029"}]}, "mark": {"type": "text", "align": "left", "baseline": "middle", "dx": 7, "font": "Liberation Serif", "fontWeight": "bold", "fontSize": 11.5, "color": "#222222"}, "encoding": {"text": {"field": "txt"}}}
    ]
  },
  {
    "width": 237, "height": 157,
    "title": {"text": "d"},
    "encoding": {
      "x": {"field": "t", "type": "quantitative", "scale": {"domain": [0, 140], "nice": false}, "axis": {"values": [0,20,40,60,80,100,120,140], "title": "Time, mo"}},
      "y": {"field": "s", "type": "quantitative", "scale": {"domain": [0, 100], "nice": false}, "axis": {"values": [0,20,40,60,80,100], "title": "NSCLC-specific survival(%)"}}
    },
    "layer": [
      {"data": {"name": "d"}, "mark": {"type": "line", "interpolate": "step-after", "strokeWidth": 2},
       "encoding": {
         "color": {"field": "g", "type": "nominal", "scale": {"domain": ["Adj-RT+Lobectomy/Bilobectomy", "Adj-RT+Pneumectomy", "Neo-RT+Lobectomy/Bilobectomy", "Neo-RT+Pneumectomy", "(Surgery + Chemotherapy only)+Lobectomy/Bilobectomy", "(Surgery + Chemotherapy only)+Pneumectomy"], "range": ["#1d1d9b", "#1d1d9b", "#f7982d", "#f7982d", "#21892a", "#21892a"]},
           "legend": {"title": null, "orient": "none", "legendX": 175, "legendY": -42, "padding": 0, "symbolType": "stroke", "symbolSize": 169, "symbolStrokeWidth": 2, "labelFont": "Liberation Serif", "labelFontSize": 7.2, "labelColor": "#222222", "labelOffset": 7, "clipHeight": 6, "rowPadding": 0.4, "labelLimit": 300}},
         "strokeDash": {"field": "g", "type": "nominal", "scale": {"domain": ["Adj-RT+Lobectomy/Bilobectomy", "Adj-RT+Pneumectomy", "Neo-RT+Lobectomy/Bilobectomy", "Neo-RT+Pneumectomy", "(Surgery + Chemotherapy only)+Lobectomy/Bilobectomy", "(Surgery + Chemotherapy only)+Pneumectomy"], "range": [[1,0],[5,3],[1,0],[2,3],[1,0],[2,3]]},
           "legend": {"title": null, "orient": "none", "legendX": 175, "legendY": -42, "padding": 0, "symbolType": "stroke", "symbolSize": 169, "symbolStrokeWidth": 2, "labelFont": "Liberation Serif", "labelFontSize": 7.2, "labelColor": "#222222", "labelOffset": 7, "clipHeight": 6, "rowPadding": 0.4, "labelLimit": 300}}
       }},
      {"data": {"values": [{"t": 0.6, "s": 114.2, "txt": "T3/4 & N2/3"}]}, "mark": {"type": "text", "align": "left", "baseline": "middle", "font": "Liberation Serif", "fontWeight": "bold", "fontSize": 10, "color": "#111111"}, "encoding": {"text": {"field": "txt"}}},
      {"data": {"values": [{"t": 57.8, "s": 87, "txt": "P"}]}, "mark": {"type": "text", "align": "left", "baseline": "middle", "font": "Liberation Serif", "fontWeight": "bold", "fontStyle": "italic", "fontSize": 11.5, "color": "#222222"}, "encoding": {"text": {"field": "txt"}}},
      {"data": {"values": [{"t": 57.8, "s": 87, "txt": "=0.0069"}]}, "mark": {"type": "text", "align": "left", "baseline": "middle", "dx": 7, "font": "Liberation Serif", "fontWeight": "bold", "fontSize": 11.5, "color": "#222222"}, "encoding": {"text": {"field": "txt"}}}
    ]
  }
]
}
